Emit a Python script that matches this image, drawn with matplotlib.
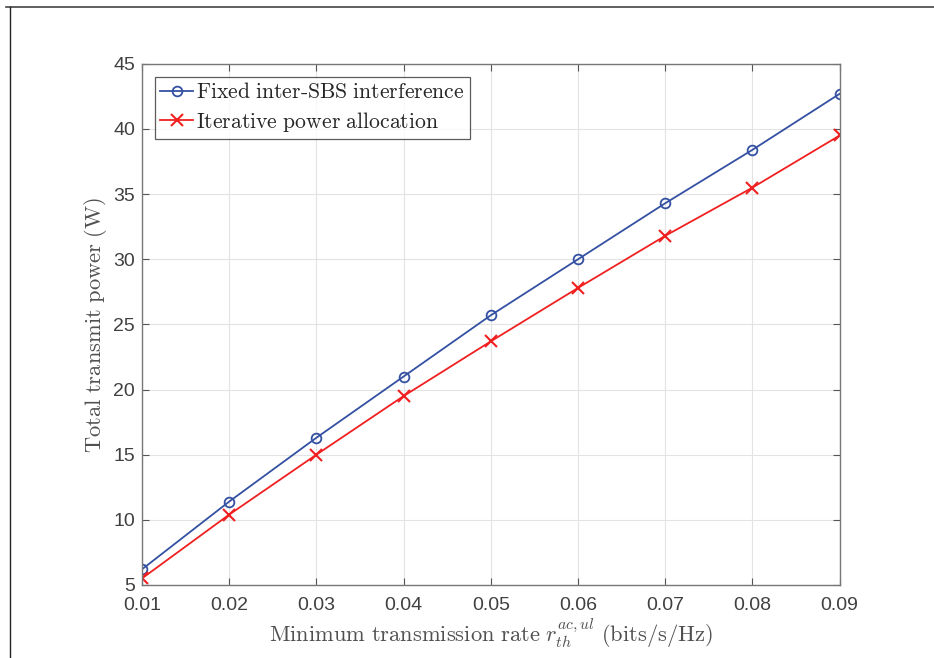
import matplotlib
matplotlib.use("Agg")
import matplotlib.pyplot as plt
from matplotlib.lines import Line2D

plt.rcParams['mathtext.fontset'] = 'cm'
plt.rcParams['font.family'] = ['Liberation Sans', 'DejaVu Sans']

# --- datos ---
rate = [0.01, 0.02, 0.03, 0.04, 0.05, 0.06, 0.07, 0.08, 0.09]
fixed = [6.2, 11.4, 16.3, 21.0, 25.7, 30.0, 34.3, 38.4, 42.7]
iterative = [5.5, 10.4, 15.0, 19.5, 23.7, 27.8, 31.8, 35.5, 39.5]
yticks = [5, 10, 15, 20, 25, 30, 35, 40, 45]

fig = plt.figure(figsize=(9.34, 6.58), dpi=100)
ax = fig.add_axes([0.152, 0.111, 0.747, 0.792])

ax.plot(rate, fixed, color='#3450a2', marker='o', markersize=7, markerfacecolor='none',
        markeredgewidth=1.3, linewidth=1.3, label=r'$\mathrm{Fixed\ inter\text{-}SBS\ interference}$')
ax.plot(rate, iterative, color='#f02020', marker='x', markersize=8, markeredgewidth=1.5,
        linewidth=1.3, label=r'$\mathrm{Iterative\ power\ allocation}$')

ax.set_xlim(0.01, 0.09)
ax.set_ylim(5, 45)
ax.set_xticks(rate)
ax.set_xticklabels(['%.2f' % r for r in rate])
ax.set_yticks(yticks)
ax.grid(True, color='#e3e3e3', linewidth=0.8)
ax.set_axisbelow(True)
ax.tick_params(direction='in', length=5, colors='#555555', labelcolor='#404040',
               labelsize=14, top=True, right=True)
ax.tick_params(axis='x', pad=9)
ax.tick_params(axis='y', pad=5)
for s in ax.spines.values():
    s.set_color('#777777')
    s.set_linewidth(1.0)

ax.set_xlabel(r'$\mathrm{Minimum\ transmission\ rate}\ r_{th}^{ac,ul}\ \mathrm{(bits/s/Hz)}$',
              fontsize=16.2, color='#505050', labelpad=1)
ax.set_ylabel(r'$\mathrm{Total\ transmit\ power\ (W)}$', fontsize=16.2, color='#505050', labelpad=3)

leg = ax.legend(loc='upper left', fontsize=15.6, frameon=True, fancybox=False,
                borderpad=0.25, handlelength=1.5, handletextpad=0.15, labelspacing=0.3,
                borderaxespad=0.6)
leg.get_frame().set_edgecolor('#333333')
leg.get_frame().set_linewidth(0.9)
for t in leg.get_texts():
    t.set_color('#262626')

# marco exterior
fig.add_artist(Line2D([6 / 934, 1.0], [1 - 7 / 658, 1 - 7 / 658], color='#444444', linewidth=1.2))
fig.add_artist(Line2D([9.5 / 934, 9.5 / 934], [0, 1 - 7 / 658], color='#222222', linewidth=1.0))

plt.savefig("out.png", dpi=100)
